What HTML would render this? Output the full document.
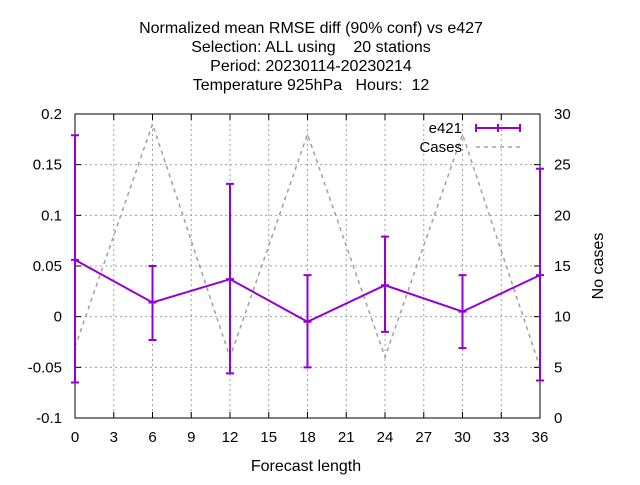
<!DOCTYPE html>
<html><head><meta charset="utf-8"><style>
body{margin:0;background:#fff}
svg text{font-family:"Liberation Sans",sans-serif;fill:#000}
</style></head><body>
<svg id="chart" width="640" height="480" xmlns="http://www.w3.org/2000/svg">
<g text-anchor="middle">
<text x="311" y="33" font-size="16">Normalized mean RMSE diff (90% conf) vs e427</text>
<text x="311" y="52" font-size="16" xml:space="preserve">Selection: ALL using    20 stations</text>
<text x="311" y="71" font-size="16">Period: 20230114-20230214</text>
<text x="311" y="90" font-size="16" xml:space="preserve">Temperature 925hPa   Hours:  12</text>
</g>
<g id="grid"></g>
<g id="axes"></g>
<g id="series"></g>
<text x="306" y="471" font-size="16" text-anchor="middle">Forecast length</text>
<text transform="translate(603,266) rotate(-90)" font-size="16" text-anchor="middle">No cases</text>
<g>
<text x="462" y="133" font-size="15" text-anchor="end">e421</text>
<line x1="476" y1="128" x2="520" y2="128" stroke="#9400d3" stroke-width="2"/>
<line x1="476" y1="124" x2="476" y2="132" stroke="#9400d3" stroke-width="2"/>
<line x1="498" y1="124" x2="498" y2="132" stroke="#9400d3" stroke-width="2"/>
<line x1="520" y1="124" x2="520" y2="132" stroke="#9400d3" stroke-width="2"/>
<text x="462" y="152" font-size="15" text-anchor="end">Cases</text>
<line x1="476" y1="147" x2="520" y2="147" stroke="#a0a0a0" stroke-width="1.5" stroke-dasharray="4,4"/>
</g>
</svg>
<script>
const xVals=[0,6,12,18,24,30,36];
const e421=[0.056,0.014,0.037,-0.005,0.031,0.005,0.041];
const errLow=[-0.065,-0.023,-0.056,-0.050,-0.015,-0.031,-0.063];
const errHigh=[0.179,0.050,0.131,0.041,0.079,0.041,0.146];
const cases=[7,29,6,28,6,28,5];
const xTicks=[0,3,6,9,12,15,18,21,24,27,30,33,36];
const yTicks=[-0.1,-0.05,0,0.05,0.1,0.15,0.2];
const yTickLabels=["-0.1","-0.05","0","0.05","0.1","0.15","0.2"];
const y2Ticks=[0,5,10,15,20,25,30];

const L=75,R=540,T=114,B=418;
const sx=v=>L+(v-0)/36*(R-L);
const sy=v=>B-(v+0.1)/0.3*(B-T);
const sy2=v=>B-v/30*(B-T);
const NS="http://www.w3.org/2000/svg";
function mk(tag,attrs,parent){const e=document.createElementNS(NS,tag);for(const k in attrs)e.setAttribute(k,attrs[k]);parent.appendChild(e);return e;}
const grid=document.getElementById('grid'),axes=document.getElementById('axes'),series=document.getElementById('series');

xTicks.forEach((t,i)=>{
  const x=sx(t);
  if(t>0&&t<36){const g=mk('line',{x1:x,y1:T,x2:x,y2:B,stroke:'#a0a0a0','stroke-width':1,'stroke-dasharray':'2,3'},grid);
  
  }
  const tk=mk('line',{x1:x,y1:B,x2:x,y2:B-6,stroke:'#000'},axes);
  
  
  const tk2=mk('line',{x1:x,y1:T,x2:x,y2:T+6,stroke:'#000'},axes);
  
  
  const lb=mk('text',{x:x,y:B+24,'font-size':15,'text-anchor':'middle'},axes);lb.textContent=t;
  
  
});
yTicks.forEach((t,i)=>{
  const y=sy(t);
  if(i>0&&i<yTicks.length-1){const g=mk('line',{x1:L,y1:y,x2:R,y2:y,stroke:'#a0a0a0','stroke-width':1,'stroke-dasharray':'2,3'},grid);
  
  }
  const tk=mk('line',{x1:L,y1:y,x2:L+6,y2:y,stroke:'#000'},axes);
  
  
  const lb=mk('text',{x:L-13,y:y+5,'font-size':15,'text-anchor':'end'},axes);lb.textContent=yTickLabels[i];
  
  
});
y2Ticks.forEach(t=>{
  const y=sy2(t);
  const tk=mk('line',{x1:R,y1:y,x2:R-6,y2:y,stroke:'#000'},axes);
  
  
  const lb=mk('text',{x:R+14,y:y+5,'font-size':15,'text-anchor':'start'},axes);lb.textContent=t;
  
  
});
const frame=mk('rect',{x:L,y:T,width:R-L,height:B-T,fill:'none',stroke:'#000','stroke-width':1},axes);



const cl=mk('polyline',{points:xVals.map((x,i)=>sx(x)+','+sy2(cases[i])).join(' '),fill:'none',stroke:'#a0a0a0','stroke-width':1.5,'stroke-dasharray':'4,4'},series);



const ln=mk('polyline',{points:xVals.map((x,i)=>sx(x)+','+sy(e421[i])).join(' '),fill:'none',stroke:'#9400d3','stroke-width':2},series);


xVals.forEach((xv,i)=>{
  const x=sx(xv),y1=sy(errLow[i]),y2=sy(errHigh[i]);
  const eb=mk('path',{d:`M${x},${y1}V${y2}M${x-4},${y1}H${x+4}M${x-4},${y2}H${x+4}M${x-4},${sy(e421[i])}H${x+4}`,stroke:'#9400d3','stroke-width':2,fill:'none'},series);
  
  
});
</script>
</body></html>
